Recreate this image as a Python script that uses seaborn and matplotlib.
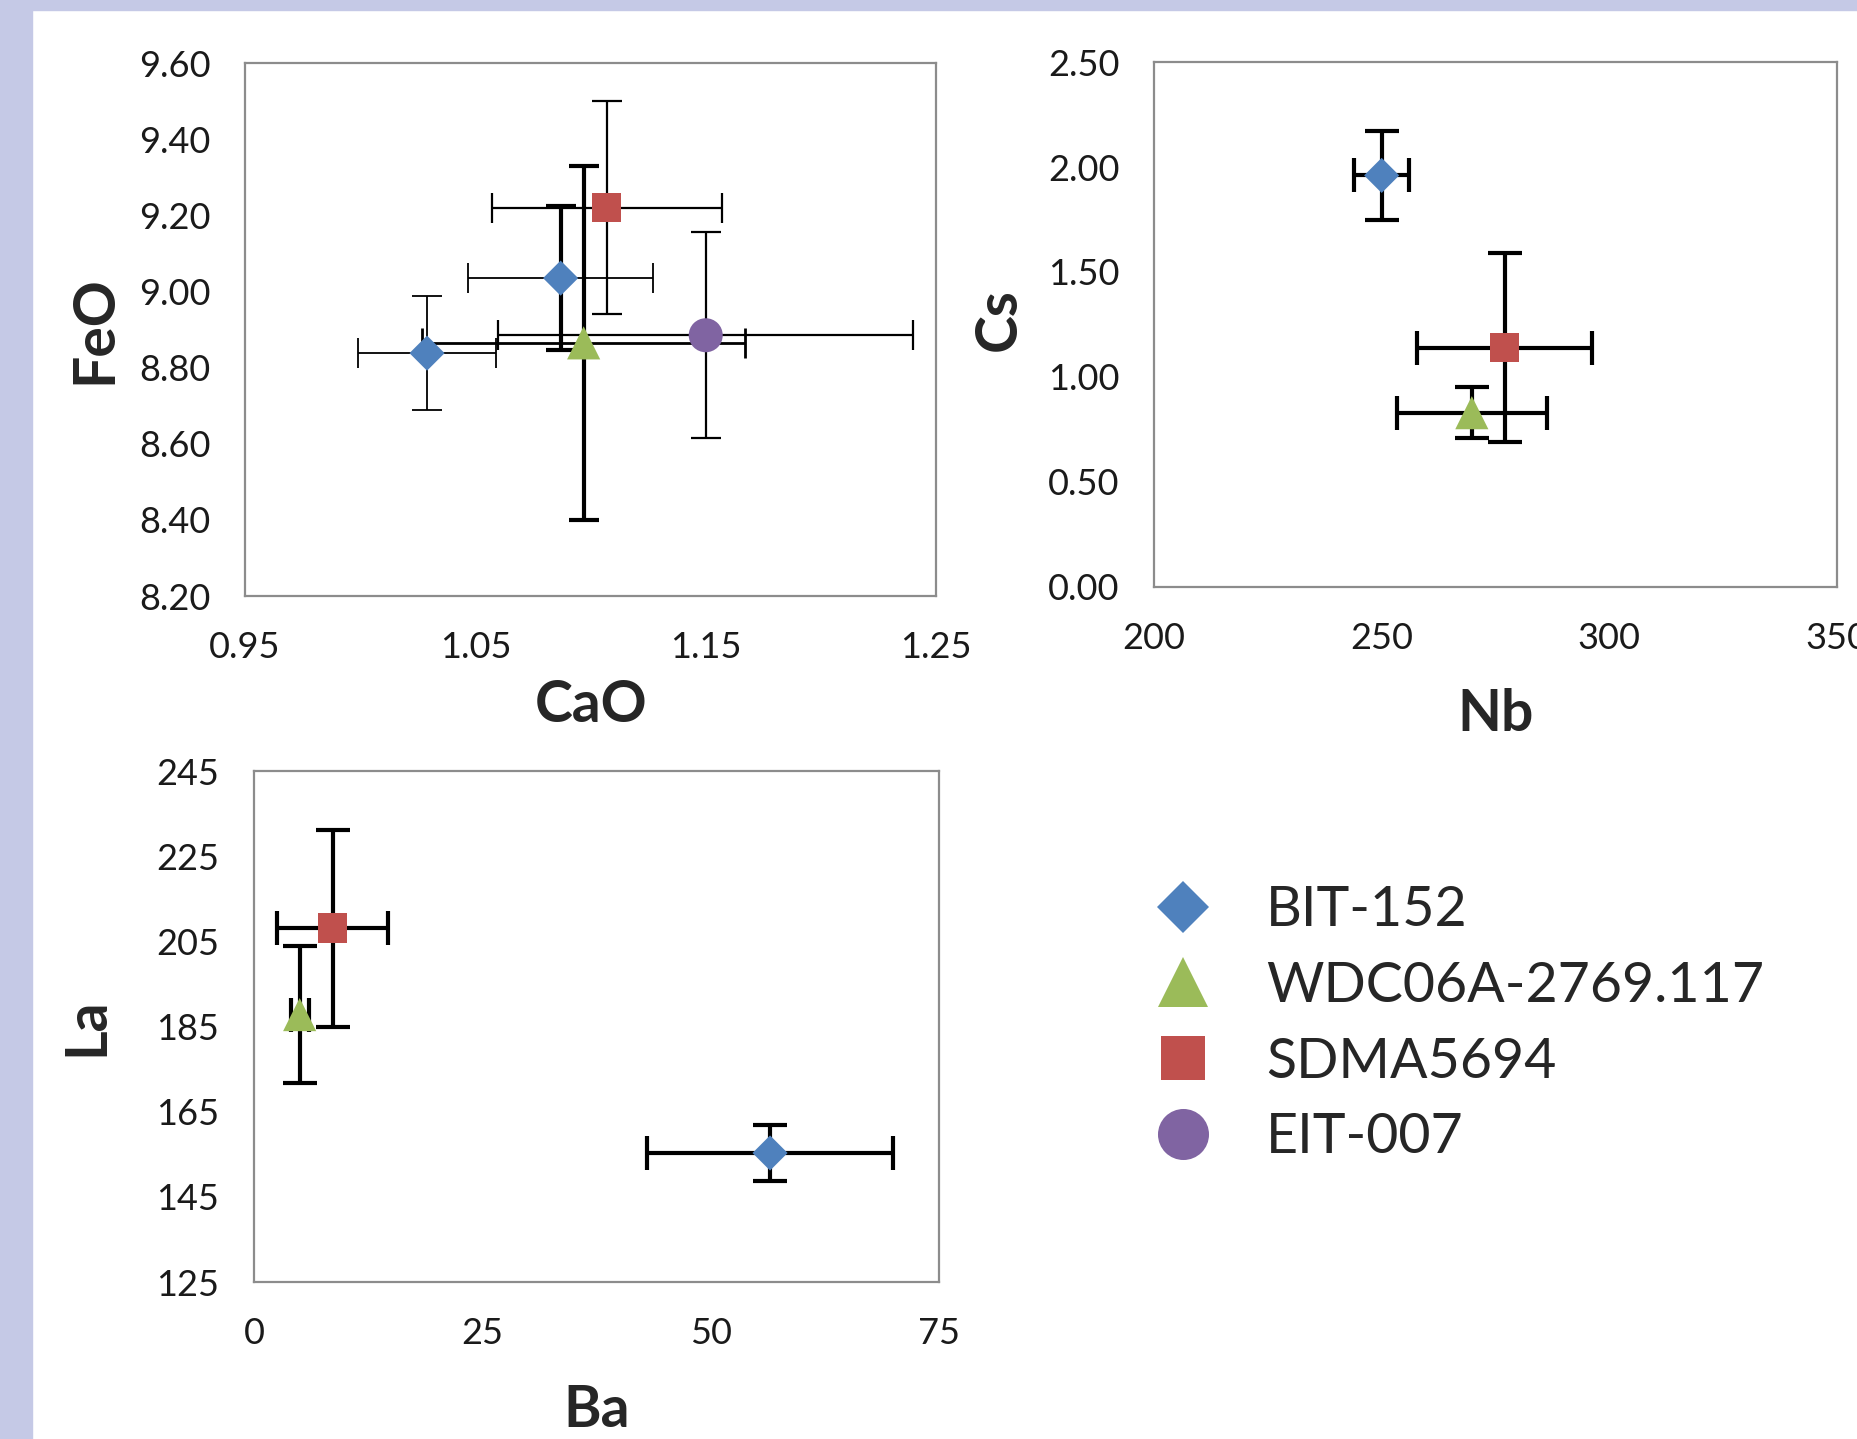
import seaborn as sns
import pandas as pd
import matplotlib.pyplot as plt
from matplotlib.patches import Rectangle

# series order / look
samples = ["BIT-152", "WDC06A-2769.117", "SDMA5694", "EIT-007"]
colors = ["#4F81BD", "#9BBB59", "#C0504D", "#8064A2"]
marker_list = ["D", "^", "s", "o"]
size_list = [320, 570, 450, 600]

# CaO vs FeO
p1_sample = ["BIT-152", "BIT-152", "WDC06A-2769.117", "SDMA5694", "EIT-007"]
cao = [1.029, 1.087, 1.097, 1.107, 1.150]
cao_err = [0.030, 0.040, 0.070, 0.050, 0.090]
feo = [8.838, 9.035, 8.865, 9.220, 8.885]
feo_err = [0.150, 0.190, 0.465, 0.280, 0.270]
p1_xticks = [0.95, 1.05, 1.15, 1.25]
p1_yticks = [8.20, 8.40, 8.60, 8.80, 9.00, 9.20, 9.40, 9.60]

# Nb vs Cs
p2_sample = ["BIT-152", "WDC06A-2769.117", "SDMA5694"]
nb = [250.0, 269.8, 277.0]
nb_err = [6.0, 16.5, 19.3]
cs = [1.96, 0.83, 1.14]
cs_err = [0.21, 0.12, 0.45]
p2_xticks = [200, 250, 300, 350]
p2_yticks = [0.00, 0.50, 1.00, 1.50, 2.00, 2.50]

# Ba vs La
p3_sample = ["BIT-152", "WDC06A-2769.117", "SDMA5694"]
ba = [56.5, 5.0, 8.6]
ba_err = [13.5, 1.0, 6.1]
la = [155.3, 187.8, 208.1]
la_err = [6.6, 16.0, 23.1]
p3_xticks = [0, 25, 50, 75]
p3_yticks = [125, 145, 165, 185, 205, 225, 245]

sns.set_style("white")
plt.rcParams['font.family'] = ['Lato', 'DejaVu Sans']

palette = dict(zip(samples, colors))
markers = dict(zip(samples, marker_list))
sizes = dict(zip(samples, size_list))

fig = plt.figure(figsize=(18.58, 14.39), dpi=100)
band = "#C5C9E6"
fig.patches.append(Rectangle((0, 0), 32 / 1858, 1, transform=fig.transFigure, color=band, zorder=-10))
fig.patches.append(Rectangle((0, 1 - 10 / 1439), 1, 10 / 1439, transform=fig.transFigure, color=band, zorder=-10))


def panel(rect, sample, x, xerr, y, yerr, xname, yname, xt, yt, xfmt, yfmt,
          xlw, ylw, cap, xlab_pos, ylab_pos, legend=False):
    ax = fig.add_axes(rect)
    df = pd.DataFrame({xname: x, yname: y, "Sample": sample})
    for i in range(len(x)):
        ax.errorbar(x[i], y[i], xerr=xerr[i], fmt="none", ecolor="black",
                    elinewidth=xlw[i], capsize=cap, capthick=xlw[i], zorder=2)
        ax.errorbar(x[i], y[i], yerr=yerr[i], fmt="none", ecolor="black",
                    elinewidth=ylw[i], capsize=cap, capthick=ylw[i], zorder=2)
    sns.scatterplot(data=df, x=xname, y=yname, hue="Sample", style="Sample", size="Sample",
                    hue_order=samples, style_order=samples, size_order=samples,
                    palette=palette, markers=markers, sizes=sizes, edgecolor="none",
                    linewidth=0, ax=ax, zorder=3, legend=legend)
    ax.set_xlim(xt[0], xt[-1])
    ax.set_ylim(yt[0], yt[-1])
    ax.set_xticks(xt)
    ax.set_yticks(yt)
    ax.set_xticklabels([xfmt.format(v) for v in xt])
    ax.set_yticklabels([yfmt.format(v) for v in yt])
    ax.tick_params(length=0, pad=25, labelsize=26, colors="#1a1a1a")
    for s in ax.spines.values():
        s.set_color("#8c8c8c")
        s.set_linewidth(1.6)
    ax.set_xlabel(xname, fontsize=41, fontweight="bold", va="center")
    ax.set_ylabel(yname, fontsize=41, fontweight="bold", va="center")
    ax.xaxis.set_label_coords(*xlab_pos)
    ax.yaxis.set_label_coords(*ylab_pos)
    return ax


ax1 = panel([0.1319, 0.5858, 0.3719, 0.3704], p1_sample, cao, cao_err, feo, feo_err,
            "CaO", "FeO", p1_xticks, p1_yticks, "{:.2f}", "{:.2f}",
            [1.3, 1.3, 2.0, 1.6, 1.6], [1.3, 3.0, 3.0, 1.6, 1.6], 11,
            (0.50, -0.206), (-0.217, 0.50), legend="full")
ax2 = panel([0.6211, 0.5921, 0.3676, 0.3648], p2_sample, nb, nb_err, cs, cs_err,
            "Nb", "Cs", p2_xticks, p2_yticks, "{:d}", "{:.2f}",
            [3.0] * 3, [3.0] * 3, 12, (0.50, -0.243), (-0.226, 0.51))
ax3 = panel([0.1367, 0.1091, 0.3687, 0.3551], p3_sample, ba, ba_err, la, la_err,
            "Ba", "La", p3_xticks, p3_yticks, "{:d}", "{:d}",
            [3.0] * 3, [3.0] * 3, 12, (0.50, -0.251), (-0.244, 0.50))

handles, labels = ax1.get_legend_handles_labels()
ax1.get_legend().remove()
pairs = [(h, l) for h, l in zip(handles, labels) if l in samples]
fig.legend([p[0] for p in pairs], [p[1] for p in pairs], loc="upper left",
           bbox_to_anchor=(0.6098, 0.4003), frameon=False, fontsize=40,
           markerscale=1.5, handlelength=1.0, handletextpad=1.0, labelspacing=0.445,
           borderaxespad=0)

plt.savefig("out.png", dpi=100)
